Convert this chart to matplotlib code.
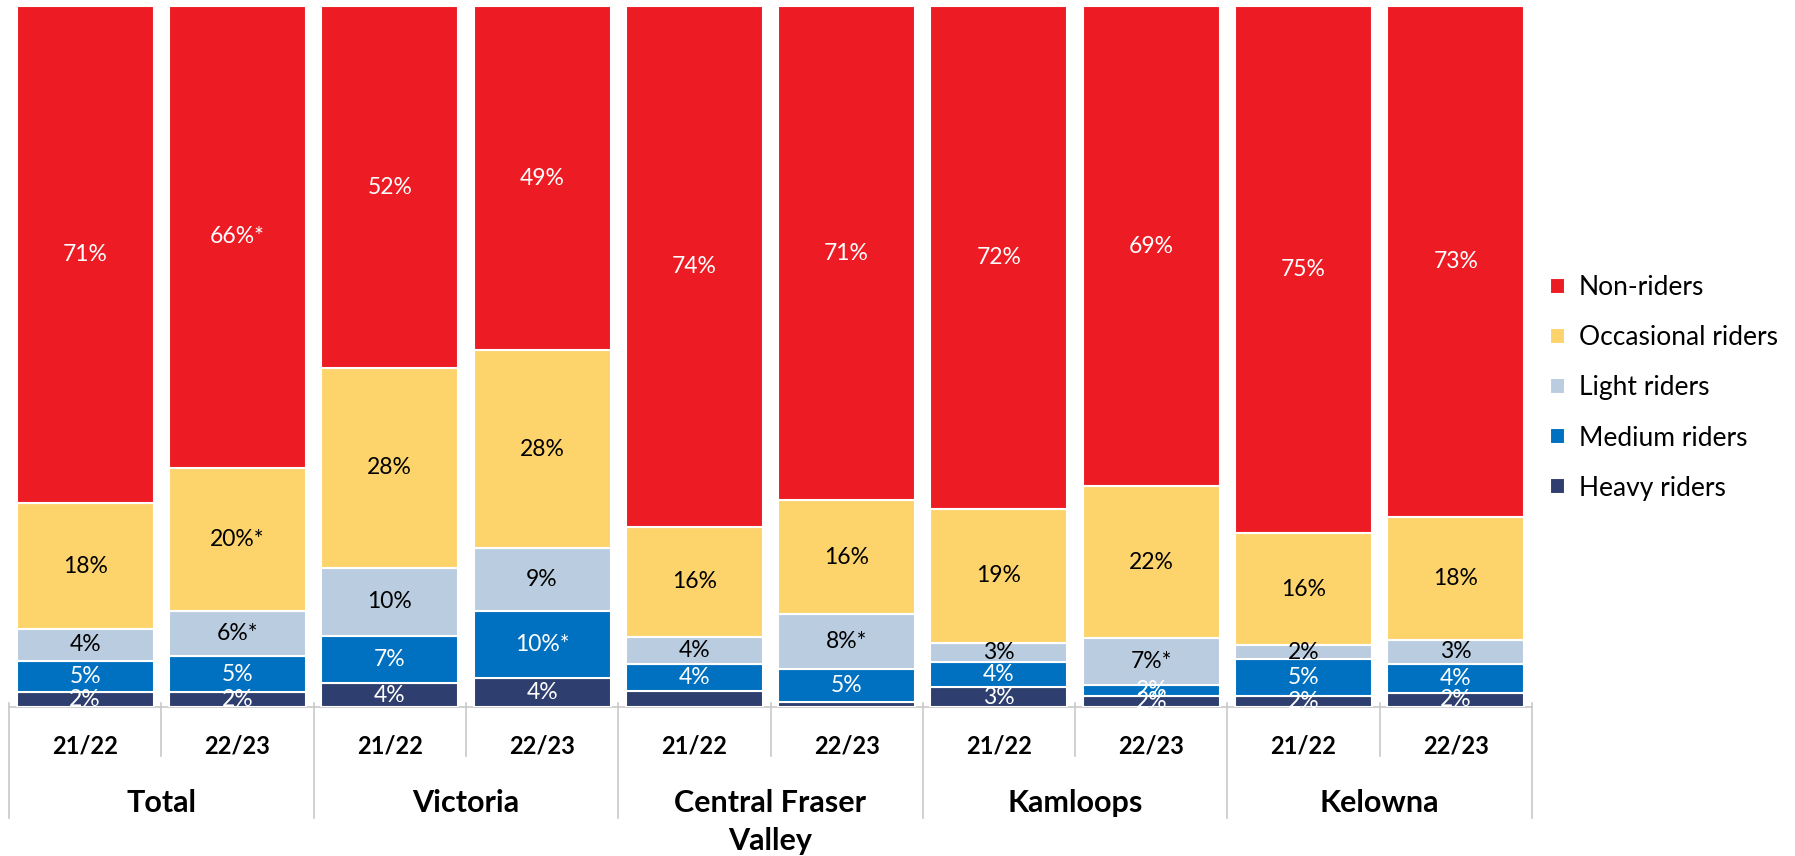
import matplotlib
matplotlib.use("Agg")
import matplotlib.pyplot as plt
import numpy as np

plt.rcParams['font.family'] = ['Lato', 'DejaVu Sans']

years = ["21/22", "22/23"] * 5
groups = ["Total", "Victoria", "Central Fraser\nValley", "Kamloops", "Kelowna"]

series_names = ["Heavy riders", "Medium riders", "Light riders", "Occasional riders", "Non-riders"]
heavy = [2.1, 2.1, 3.4, 4.1, 2.3, 0.7, 2.8, 1.6, 1.6, 2.0]
medium = [4.5, 5.2, 6.7, 9.6, 3.9, 4.7, 3.6, 1.5, 5.2, 4.2]
light = [4.5, 6.4, 9.8, 9.0, 3.8, 7.8, 2.8, 6.7, 2.0, 3.3]
occasional = [18.0, 20.4, 28.4, 28.2, 15.7, 16.3, 19.1, 21.7, 16.0, 17.6]
non_riders = [70.9, 65.9, 51.7, 49.1, 74.3, 70.5, 71.7, 68.5, 75.2, 72.9]

heavy_lbl = ["2%", "2%", "4%", "4%", "", "", "3%", "2%", "2%", "2%"]
medium_lbl = ["5%", "5%", "7%", "10%*", "4%", "5%", "4%", "2%", "5%", "4%"]
light_lbl = ["4%", "6%*", "10%", "9%", "4%", "8%*", "3%", "7%*", "2%", "3%"]
occasional_lbl = ["18%", "20%*", "28%", "28%", "16%", "16%", "19%", "22%", "16%", "18%"]
non_lbl = ["71%", "66%*", "52%", "49%", "74%", "71%", "72%", "69%", "75%", "73%"]

colors = ["#2E3E6E", "#0070C0", "#BACCDF", "#FDD46C", "#ED1C24"]
text_colors = ["white", "white", "black", "black", "white"]

values = [heavy, medium, light, occasional, non_riders]
labels = [heavy_lbl, medium_lbl, light_lbl, occasional_lbl, non_lbl]

fig = plt.figure(figsize=(17.95, 8.56), dpi=100)
ax = fig.add_axes([9/1795, 1 - 707/856, (1532 - 9)/1795, (707 - 6)/856])

x = np.arange(len(years))
bottom = np.zeros(len(years))
handles = []
for name, vals, col, tc, lbls in zip(series_names, values, colors, text_colors, labels):
    vals = np.array(vals)
    bc = ax.bar(x, vals, width=0.9, bottom=bottom, color=col, edgecolor="white",
                linewidth=1.5, label=name, zorder=3)
    handles.append(bc)
    for xi, b, v, lab in zip(x, bottom, vals, lbls):
        if lab:
            ax.text(xi, b + v / 2, lab, ha="center", va="center", color=tc,
                    fontsize=16.5, zorder=4)
    bottom = bottom + vals

ax.set_xlim(-0.5, len(years) - 0.5)
ax.set_ylim(0, 100)
for s in ax.spines.values():
    s.set_visible(False)
ax.set_xticks([])
ax.set_yticks([])

# category axis
trans = ax.get_xaxis_transform()
lc = "#C8C8C8"
ax.plot([-0.5, len(years) - 0.5], [0, 0], color=lc, lw=1.2, transform=trans, clip_on=False)
for i in range(len(years) + 1):
    xb = i - 0.5
    ybot = -0.158 if i % 2 == 0 else -0.07
    ax.plot([xb, xb], [0.005, ybot], color=lc, lw=1.2, transform=trans, clip_on=False)

for xi, yr in zip(x, years):
    ax.text(xi, -0.055, yr, ha="center", va="center", fontsize=17, fontweight="bold",
            transform=trans)
for gi, g in enumerate(groups):
    ax.text(2 * gi + 0.5, -0.117, g, ha="center", va="top", fontsize=22,
            fontweight="bold", transform=trans, linespacing=1.45)

leg = fig.legend(handles=handles[::-1], loc="center left",
                 bbox_to_anchor=(1550/1795, 1 - 388/856), frameon=False,
                 handlelength=0.55, handleheight=0.55, handletextpad=0.55,
                 labelspacing=0.95, fontsize=19, borderpad=0, borderaxespad=0)

fig.savefig("out.png", dpi=100)
